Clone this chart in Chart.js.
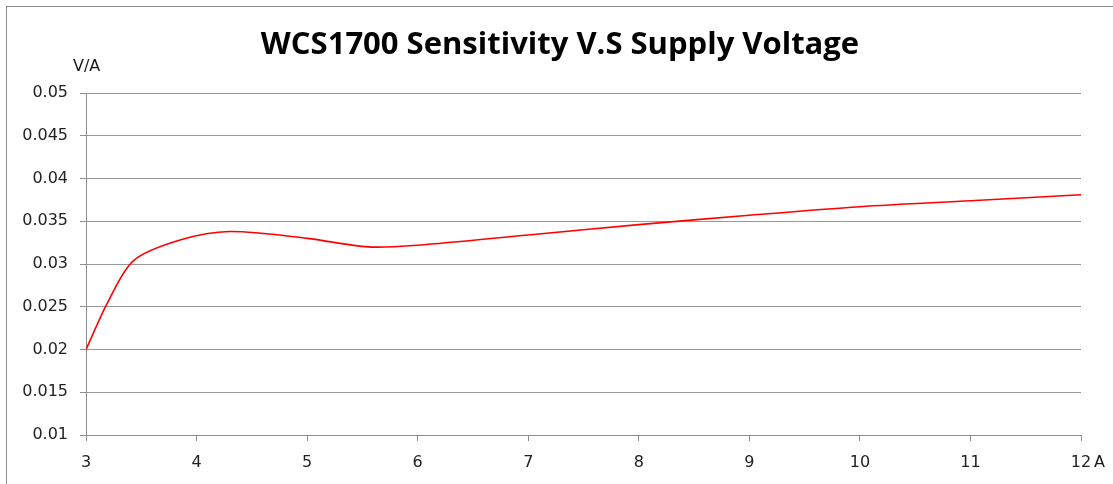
<!DOCTYPE html>
<html>
<head>
<meta charset="utf-8">
<script src="https://cdn.jsdelivr.net/npm/chart.js@4/dist/chart.umd.min.js"></script>
<style>
  html, body { margin: 0; padding: 0; background: #fff; }
  #chart { display: block; }
</style>
</head>
<body>
<canvas id="chart" width="1113" height="484"></canvas>
<script>
// Chart data
const chartTitle = "WCS1700 Sensitivity V.S Supply Voltage";
const yUnit = "V/A";
const xUnit = "A";
const current = [3, 3.2, 3.43, 3.85, 4.3, 5, 5.55, 6, 7, 8, 9, 10, 11, 12];
const sensitivity = [0.02, 0.0256, 0.0304, 0.0328, 0.0338, 0.033, 0.032, 0.0322, 0.0334, 0.0346, 0.0357, 0.0367, 0.0374, 0.0381];
const yTicks = [0.01, 0.015, 0.02, 0.025, 0.03, 0.035, 0.04, 0.045, 0.05];

const tickFont = { family: "DejaVu Sans", size: 16 };
const gridColor = "#999999";

// Title, unit labels and frame
const decorations = {
  id: "decorations",
  afterDraw(chart) {
    const ctx = chart.ctx;
    const area = chart.chartArea;
    ctx.save();
    ctx.strokeStyle = "#8c8c8c";
    ctx.lineWidth = 1;
    ctx.strokeRect(6.5, 6.5, 1400, 800);

    ctx.fillStyle = "#000";
    ctx.font = "bold 31px 'Open Sans'";
    ctx.textAlign = "center";
    ctx.textBaseline = "alphabetic";
    ctx.fillText(chartTitle, 560, 54);

    ctx.font = "16px 'DejaVu Sans'";
    ctx.fillStyle = "#1a1a1a";
    ctx.textAlign = "left";
    ctx.textBaseline = "middle";
    ctx.fillText(yUnit, 73, 67);
    ctx.fillText(xUnit, area.right + 13, 463);
    ctx.restore();
  }
};

new Chart(document.getElementById("chart").getContext("2d"), {
  type: "line",
  data: {
    datasets: [{
      data: current.map((x, i) => ({ x: x, y: sensitivity[i] })),
      borderColor: "#ff0000",
      borderWidth: 1.6,
      pointRadius: 0,
      tension: 0.3,
      fill: false
    }]
  },
  options: {
    responsive: false,
    animation: false,
    layout: { padding: { left: 0, right: 32, top: 93, bottom: 0 } },
    plugins: {
      legend: { display: false },
      title: { display: false },
      tooltip: { enabled: false }
    },
    scales: {
      x: {
        type: "linear",
        min: 3,
        max: 12,
        afterFit: (scale) => { scale.height = 49; },
        border: { color: "#8c8c8c", width: 1 },
        grid: { drawOnChartArea: false, drawTicks: true, tickLength: 6, tickColor: "#8c8c8c" },
        ticks: { stepSize: 1, padding: 12, color: "#222", font: tickFont, maxRotation: 0 }
      },
      y: {
        min: yTicks[0],
        max: yTicks[yTicks.length - 1],
        afterFit: (scale) => { scale.width = 86; },
        afterBuildTicks: (scale) => { scale.ticks = yTicks.map(v => ({ value: v })); },
        border: { color: "#8c8c8c", width: 1 },
        grid: { color: gridColor, lineWidth: 1, drawTicks: true, tickLength: 6, tickColor: "#8c8c8c" },
        ticks: {
          padding: 12,
          color: "#222",
          font: tickFont,
          callback: (v) => String(parseFloat(Number(v).toFixed(3)))
        }
      }
    }
  },
  plugins: [decorations]
});
</script>
</body>
</html>
